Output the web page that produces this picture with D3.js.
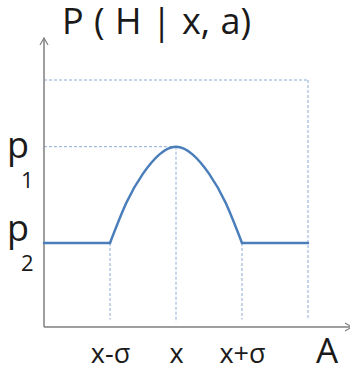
<!DOCTYPE html>
<html>
<head>
<meta charset="utf-8">
<script src="https://cdn.jsdelivr.net/npm/d3@7"></script>
<style>
  body { margin: 0; background: #fff; }
  text { font-family: "Open Sans", sans-serif; fill: #1a1a1a; }
</style>
</head>
<body>
<div id="container"></div>
<script>
/***** data *****/
// positions along A, in units of sigma around x
let aTicks = [-1, 0, 1];
let aLabels = ["x-σ", "x", "x+σ"];
let aRange = [-2, 2];

// probability levels
let pLevels = [0.73, 0.34];
let pNames = ["1", "2"];
let pTop = 1;

// the bump between x-σ and x+σ
let bumpA = [-1, -0.75, -0.5, -0.25, 0, 0.25, 0.5, 0.75, 1];
let bumpP = [0.34, 0.504, 0.621, 0.699, 0.73, 0.699, 0.621, 0.504, 0.34];

/***** chart *****/
var width = 350, height = 371;
var lineBlue = "#4a7ebb", dashBlue = "#8eaad6", axisGray = "#7f7f7f";

let svg = d3.select("#container")
  .append("svg")
    .attr("width", width)
    .attr("height", height);

var x = d3.scaleLinear().domain(aRange).range([44, 308]);
var y = d3.scaleLinear().domain([0, pTop]).range([327, 80]);

// title
svg.append("text")
  .attr("x", 62).attr("y", 34)
  .attr("font-size", 36)
  .attr("word-spacing", 1)
  .text("P ( H | x, a)");

// dashed guides
let guides = [
  [[aRange[0], pTop], [aRange[1], pTop]],
  [[aRange[1], pTop], [aRange[1], 0.03]],
  [[aRange[0], pLevels[0]], [0, pLevels[0]]],
  [[0, pLevels[0]], [0, 0.02]],
  [[-1, pLevels[1]], [-1, 0.03]],
  [[1, pLevels[1]], [1, 0.03]]
];
svg.selectAll(".guide")
  .data(guides)
  .enter().append("line")
    .attr("class", "guide")
    .attr("x1", d => x(d[0][0])).attr("y1", d => y(d[0][1]))
    .attr("x2", d => x(d[1][0])).attr("y2", d => y(d[1][1]))
    .attr("stroke", dashBlue)
    .attr("stroke-width", 1)
    .attr("stroke-dasharray", "3,2");

// axes with open arrow heads
let ax = svg.append("g").attr("stroke", axisGray).attr("stroke-width", 1.5).attr("fill", "none");
ax.append("path").attr("d", d3.line()([[x(aRange[0]), y(0)], [x(aRange[0]), 38]]));
ax.append("path").attr("d", d3.line()([[x(aRange[0]) - 4, 45], [x(aRange[0]), 38], [x(aRange[0]) + 4, 45]]))
  .attr("stroke-width", 1.2);
ax.append("path").attr("d", d3.line()([[x(aRange[0]), y(0)], [352, y(0)]]));
ax.append("path").attr("d", d3.line()([[345, y(0) - 4], [352, y(0)], [345, y(0) + 4]]))
  .attr("stroke-width", 1.2);

// A axis labels
let xAxis = svg.append("g")
  .attr("transform", "translate(0," + y(0) + ")")
  .call(d3.axisBottom(x).tickValues(aTicks).tickFormat((d, i) => aLabels[i]).tickSize(0));
xAxis.select(".domain").remove();
xAxis.selectAll("text")
  .attr("dy", null)
  .attr("y", 36)
  .attr("font-size", 27)
  .attr("font-family", "Open Sans, sans-serif")
  .attr("fill", "#1a1a1a");

svg.append("text")
  .attr("x", x(aRange[1]) + 19).attr("y", 363)
  .attr("text-anchor", "middle")
  .attr("font-size", 35)
  .text("A");

// p labels
let pOffsets = [11, -2];
pLevels.forEach(function(p, i){
  svg.append("text")
    .attr("x", 7).attr("y", y(p) + pOffsets[i])
    .attr("font-size", 36)
    .text("p");
  svg.append("text")
    .attr("x", 21).attr("y", y(p) + pOffsets[i] + 30)
    .attr("font-size", 22)
    .text(pNames[i]);
});

// the curve: flat, bump, flat
let stroke = g => g.attr("fill", "none").attr("stroke", lineBlue)
  .attr("stroke-width", 2.5).attr("stroke-linecap", "round").attr("stroke-linejoin", "round");

svg.append("path")
  .attr("d", d3.line().x(d => x(d[0])).y(d => y(d[1]))([[aRange[0], pLevels[1]], [-1, pLevels[1]]]))
  .call(stroke);
svg.append("path")
  .attr("d", d3.line().x(d => x(d[0])).y(d => y(d[1])).curve(d3.curveNatural)(bumpA.map((a, i) => [a, bumpP[i]])))
  .call(stroke);
svg.append("path")
  .attr("d", d3.line().x(d => x(d[0])).y(d => y(d[1]))([[1, pLevels[1]], [aRange[1], pLevels[1]]]))
  .call(stroke);
</script>
</body>
</html>
